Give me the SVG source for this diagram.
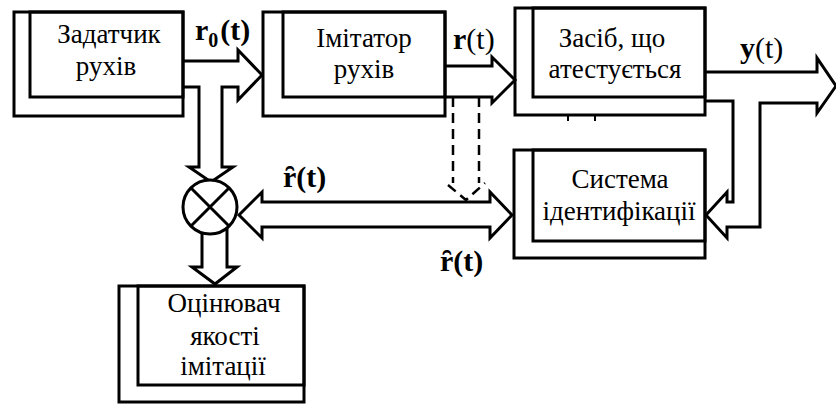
<svg xmlns="http://www.w3.org/2000/svg" width="836" height="404" viewBox="0 0 836 404">
<rect width="836" height="404" fill="#fff"/>
<g id="connectors">
<g fill="none" stroke="#000" stroke-width="3">
<path d="M183,61 H238 V50 L262,75 L238,100 V87 H222 V167 H233 L211,182 L189,167 H199 V87 H183"/>
<path d="M445,66 H492 V57 L515,80 L492,103 V97 H445"/>
<path d="M705,72 H817 V58 L836,86 L817,113 V103 H760 V227 H727 V238 L706,215 L727,192 V202 H733 V101 H705"/>
<path fill="#fff" d="M239,215 L262,192 V202 H490 V192 L512,215 L490,238 V227 H262 V238 Z"/>
<path d="M202,233 V267 H192 L215,284 L237,267 H227 V228"/>
<g id="mult">
<circle cx="210" cy="207" r="27" fill="#fff"/>
<path d="M191,188 L229,226 M229,188 L191,226"/>
</g>
</g>
<path d="M453,97 V183 M479,97 V183 M448,185 L466,200 L485,183" fill="none" stroke="#000" stroke-width="2.5" stroke-dasharray="10 6"/>
<path d="M568,115 V121 M595,115 V121" stroke="#000" stroke-width="2"/>
<text font-family="Liberation Serif" font-size="30" font-weight="bold" x="195" y="40">r<tspan font-size="20" dy="7">0</tspan><tspan dy="-7" dx="2">(t)</tspan></text>
<text font-family="Liberation Serif" font-size="30" x="453" y="49"><tspan font-weight="bold">r</tspan>(t)</text>
<text font-family="Liberation Serif" font-size="30" x="740" y="58"><tspan font-weight="bold">y</tspan>(t)</text>
<text font-family="Liberation Serif" font-size="30" font-weight="bold" x="283" y="187">ȓ(t)</text>
<text font-family="Liberation Serif" font-size="30" font-weight="bold" x="440" y="271">ȓ(t)</text>
</g>
<g id="zadatchyk">
<g fill="none" stroke="#000" stroke-width="3">
<rect x="14" y="12" width="169" height="104"/>
<rect x="30" y="12" width="153" height="85"/>
</g>
<text font-family="Liberation Serif" font-size="27" text-anchor="middle" x="109" y="43">Задатчик</text>
<text font-family="Liberation Serif" font-size="27" text-anchor="middle" x="106" y="75">рухів</text>
</g>
<g id="imitator">
<g fill="none" stroke="#000" stroke-width="3">
<rect x="263" y="12" width="182" height="104"/>
<rect x="283" y="12" width="162" height="85"/>
</g>
<text font-family="Liberation Serif" font-size="27" text-anchor="middle" x="364" y="47">Імітатор</text>
<text font-family="Liberation Serif" font-size="27" text-anchor="middle" x="364" y="78">рухів</text>
</g>
<g id="zasib">
<g fill="none" stroke="#000" stroke-width="3">
<rect x="515" y="8" width="190" height="107"/>
<rect x="533" y="8" width="172" height="89"/>
</g>
<text font-family="Liberation Serif" font-size="27" text-anchor="middle" x="612" y="47">Засіб, що</text>
<text font-family="Liberation Serif" font-size="27" text-anchor="middle" x="615" y="78">атестується</text>
</g>
<g id="systema">
<g fill="none" stroke="#000" stroke-width="3">
<rect x="514" y="150" width="191" height="108"/>
<rect x="533" y="150" width="172" height="91"/>
</g>
<text font-family="Liberation Serif" font-size="27" text-anchor="middle" x="620" y="188">Система</text>
<text font-family="Liberation Serif" font-size="27" text-anchor="middle" x="619" y="220">ідентифікації</text>
</g>
<g id="otsinyuvach">
<g fill="none" stroke="#000" stroke-width="3">
<rect x="119" y="286" width="185" height="116"/>
<rect x="138" y="286" width="166" height="99"/>
</g>
<text font-family="Liberation Serif" font-size="27" text-anchor="middle" x="224" y="312">Оцінювач</text>
<text font-family="Liberation Serif" font-size="27" text-anchor="middle" x="225" y="345">якості</text>
<text font-family="Liberation Serif" font-size="27" text-anchor="middle" x="223" y="375">імітації</text>
</g>
</svg>
